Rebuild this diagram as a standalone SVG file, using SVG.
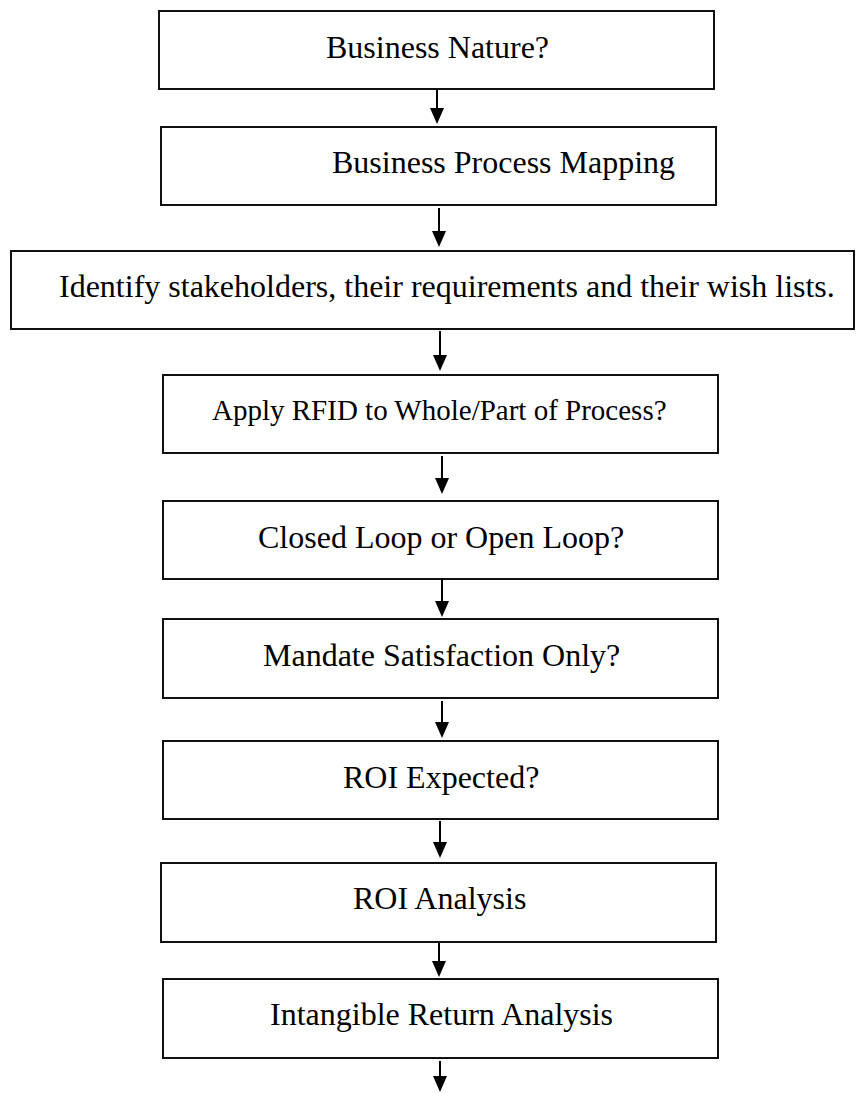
<svg xmlns="http://www.w3.org/2000/svg" width="856" height="1093" viewBox="0 0 856 1093">
<style>
.box{fill:#fff;stroke:#111;stroke-width:2}
.lbl{font-family:"Liberation Serif","Times New Roman",serif;font-size:32px;fill:#000}
.sm{font-size:29px}
.conn{stroke:#000;stroke-width:2;fill:none}
</style>
<defs>
<marker id="ah" markerUnits="userSpaceOnUse" viewBox="0 0 16 14" refX="6" refY="7" markerWidth="16" markerHeight="14" orient="auto">
<path d="M0,0 L16,7 L0,14 z" fill="#000"/>
</marker>
</defs>
<rect width="856" height="1093" fill="#fff"/>
<g id="n1"><rect class="box" x="159" y="11" width="555" height="78"/><text class="lbl" x="326" y="58">Business Nature?</text></g>
<g id="n2"><rect class="box" x="161" y="127" width="555" height="78"/><text class="lbl" x="332" y="173">Business Process Mapping</text></g>
<g id="n3"><rect class="box" x="11" y="251" width="843" height="78"/><text class="lbl" x="59" y="297">Identify stakeholders, their requirements and their wish lists.</text></g>
<g id="n4"><rect class="box" x="163" y="375" width="555" height="78"/><text class="lbl sm" x="212" y="420">Apply RFID to Whole/Part of Process?</text></g>
<g id="n5"><rect class="box" x="163" y="501" width="555" height="78"/><text class="lbl" x="258" y="548">Closed Loop or Open Loop?</text></g>
<g id="n6"><rect class="box" x="163" y="619" width="555" height="79"/><text class="lbl" x="263" y="666">Mandate Satisfaction Only?</text></g>
<g id="n7"><rect class="box" x="163" y="741" width="555" height="78"/><text class="lbl" x="343" y="788">ROI Expected?</text></g>
<g id="n8"><rect class="box" x="161" y="863" width="555" height="79"/><text class="lbl" x="353" y="909">ROI Analysis</text></g>
<g id="n9"><rect class="box" x="163" y="979" width="555" height="79"/><text class="lbl" x="270" y="1025">Intangible Return Analysis</text></g>
<g id="connectors">
<line class="conn" x1="437" y1="89" x2="437" y2="114" marker-end="url(#ah)"/>
<line class="conn" x1="439" y1="208" x2="439" y2="237" marker-end="url(#ah)"/>
<line class="conn" x1="440" y1="331" x2="440" y2="361" marker-end="url(#ah)"/>
<line class="conn" x1="442" y1="456" x2="442" y2="484" marker-end="url(#ah)"/>
<line class="conn" x1="442" y1="579" x2="442" y2="607" marker-end="url(#ah)"/>
<line class="conn" x1="442" y1="701" x2="442" y2="728" marker-end="url(#ah)"/>
<line class="conn" x1="440" y1="821" x2="440" y2="848" marker-end="url(#ah)"/>
<line class="conn" x1="439" y1="942" x2="439" y2="967" marker-end="url(#ah)"/>
<line class="conn" x1="440" y1="1061" x2="440" y2="1082" marker-end="url(#ah)"/>
</g>
</svg>
